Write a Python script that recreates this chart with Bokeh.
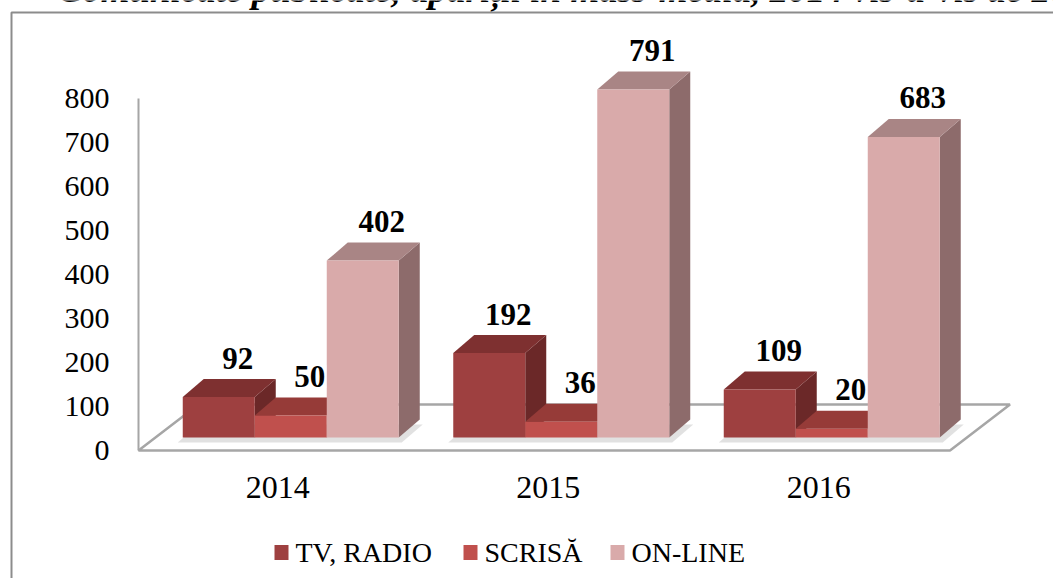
from bokeh.plotting import figure
from bokeh.models import Range1d
from bokeh.core.properties import value
from bokeh.embed import file_html
from bokeh.resources import INLINE

# ---------------- data ----------------
years = ["2014", "2015", "2016"]
series_names = ["TV, RADIO", "SCRISĂ", "ON-LINE"]
tv_radio = [92, 192, 109]
scrisa = [50, 36, 20]
online = [402, 791, 683]
y_ticks = [0, 100, 200, 300, 400, 500, 600, 700, 800]
title_text = "Comunicate publicate, apariții în mass-media, 2014 vis-à-vis de 2015 și 2016"

# ---------------- style ----------------
front_colors = ["#9E4040", "#C0504D", "#D9AAAA"]
top_colors = ["#7E3030", "#963B38", "#A98585"]
side_colors = ["#6B2828", "#883331", "#8D6B6B"]
SERIF = "Liberation Serif"

W, H = 1053, 578
X0, XS = 138.0, 270.5   # px of floor front-left, px per category
Y0, YS = 450.0, 0.44    # px of value 0, px per value unit
legend_px = [281, 470, 617]   # legend swatch centres (px)
legend_py = 552


def dxp(px):
    return px / XS


def dyp(px):
    return px / YS


x_range = Range1d(-X0 / XS, (W - X0) / XS)
y_range = Range1d((Y0 - H) / YS, Y0 / YS)

p = figure(width=W, height=H, x_range=x_range, y_range=y_range,
           output_backend="svg", toolbar_location=None,
           x_axis_type=None, y_axis_type=None, min_border=0)
p.grid.visible = False
p.outline_line_color = None
p.background_fill_color = "white"
p.border_fill_color = "white"

n = len(years)
values = [tv_radio, scrisa, online]

# floor (3D plane)
fdx, fdy = dxp(60), dyp(46)
p.patch(x=[0, n, n + fdx, fdx], y=[0, 0, fdy, fdy],
        fill_color="white", line_color="#A6A6A6", line_width=2.5)

# y axis line
p.segment(x0=[0], y0=[0], x1=[0], y1=[max(y_ticks)],
          line_color="#A6A6A6", line_width=2)

# bar geometry
bw = dxp(72)
bx, by = dxp(17), dyp(13)
ddx, ddy = dxp(21), dyp(18)

# soft shadows under groups
sh_xs, sh_ys = [], []
for i in range(n):
    gx0 = i + 0.5 + bx - 1.5 * bw - dxp(5)
    gx1 = i + 0.5 + bx + 1.5 * bw + dxp(3)
    yb = by - dyp(5)
    sh_xs.append([gx0, gx1, gx1 + ddx, gx0 + ddx])
    sh_ys.append([yb, yb, yb + ddy, yb + ddy])
p.patches(xs=sh_xs, ys=sh_ys, fill_color="#BDBDBD", fill_alpha=0.45, line_color=None)

lab_x, lab_y, lab_t = [], [], []
for j, vals in enumerate(values):
    side_xs, side_ys, top_xs, top_ys = [], [], [], []
    lefts, rights, bottoms, tops = [], [], [], []
    for i, v in enumerate(vals):
        x0 = i + 0.5 + bx + (j - 1.5) * bw
        x1 = x0 + bw
        yb = by
        yt = by + v
        side_xs.append([x1, x1, x1 + ddx, x1 + ddx])
        side_ys.append([yb, yt, yt + ddy, yb + ddy])
        top_xs.append([x0, x1, x1 + ddx, x0 + ddx])
        top_ys.append([yt, yt, yt + ddy, yt + ddy])
        lefts.append(x0)
        rights.append(x1)
        bottoms.append(yb)
        tops.append(yt)
        lab_x.append(x0 + bw / 2 + ddx)
        lab_y.append(yt + ddy)
        lab_t.append(str(v))
    p.patches(xs=side_xs, ys=side_ys, fill_color=side_colors[j], line_color=None)
    p.patches(xs=top_xs, ys=top_ys, fill_color=top_colors[j], line_color=None)
    p.quad(left=lefts, right=rights, bottom=bottoms, top=tops,
           fill_color=front_colors[j], line_color=None)

# data labels
p.text(x=lab_x, y=lab_y, text=lab_t, text_font=value(SERIF),
       text_font_style="bold", text_font_size="31px", text_color="black",
       text_align="center", text_baseline="middle",
       x_offset=-2, y_offset=-21,
       background_fill_color="white", padding=1)

# y tick labels
p.text(x=[0] * len(y_ticks), y=y_ticks, text=[str(t) for t in y_ticks],
       text_font=value(SERIF), text_font_size="30px", text_color="black",
       text_align="right", text_baseline="middle", x_offset=-29)

# category labels
p.text(x=[i + 0.5 for i in range(n)], y=[0] * n, text=years,
       text_font=value(SERIF), text_font_size="32px", text_color="black",
       text_align="center", text_baseline="middle", x_offset=4, y_offset=37)

# outer chart border (left and top edges visible)
bl = dxp(11 - X0)
bt = dyp(Y0 - 12)
p.line(x=[x_range.end + 1, bl, bl], y=[bt, bt, y_range.start - 10],
       line_color="#8C8C8C", line_width=2)

# title (clipped at the top, as in the original)
p.text(x=[dxp(57 - X0)], y=[dyp(Y0 + 11)], text=[title_text],
       text_font=value(SERIF), text_font_style="bold italic",
       text_font_size="37px", text_color="black",
       text_align="left", text_baseline="middle")

# legend (swatches + labels)
lx = [dxp(px - X0) for px in legend_px]
ly = [dyp(Y0 - legend_py)] * len(series_names)
p.rect(x=lx, y=ly, width=14, height=15, width_units="screen",
       height_units="screen", fill_color=front_colors, line_color=None)
p.text(x=lx, y=ly, text=series_names, text_font=value(SERIF),
       text_font_size="28px", text_color="black", text_align="left",
       text_baseline="middle", x_offset=14)

open("out.html", "w").write(file_html(p, INLINE))
